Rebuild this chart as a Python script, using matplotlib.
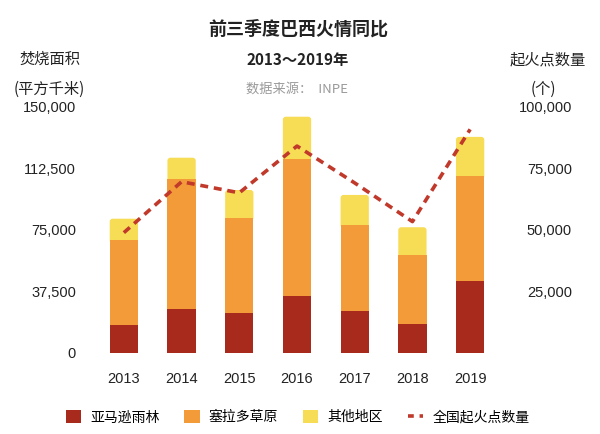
import matplotlib
matplotlib.use("Agg")
import matplotlib.pyplot as plt
from matplotlib.patches import Patch, FancyBboxPatch
from matplotlib.lines import Line2D

years = ["2013", "2014", "2015", "2016", "2017", "2018", "2019"]
amazon = [16700, 26500, 24400, 34600, 25600, 17500, 43700]
cerrado = [51800, 79200, 57900, 83500, 52300, 42100, 64100]
other = [13200, 13200, 16900, 25800, 18300, 16900, 23800]
fire_counts = [48800, 69500, 65000, 84000, 69000, 53300, 90800]
left_ticks = [0, 37500, 75000, 112500, 150000]
right_ticks = [25000, 50000, 75000, 100000]
series_names = ["亚马逊雨林", "塞拉多草原", "其他地区", "全国起火点数量"]

CJK = ["Noto Sans CJK SC", "DejaVu Sans"]
NUM = ["Liberation Sans", "Noto Sans CJK SC"]
plt.rcParams["font.family"] = CJK

c_red = "#A82A1C"
c_orange = "#F29B38"
c_yellow = "#F7DC55"
c_line = "#C0392B"

W, H = 600, 434
fig = plt.figure(figsize=(6, 4.34), dpi=100)
ax = fig.add_axes([95 / W, 1 - 352.7 / H, 404 / W, 246 / H])

x = list(range(len(years)))
bw = 0.49
b3 = [a + c for a, c in zip(amazon, cerrado)]
ax.set_xlim(-0.5, 6.5)
ax.set_ylim(0, 150000)
ax.bar(x, amazon, width=bw, color=c_red, zorder=2)
ax.bar(x, cerrado, width=bw, bottom=amazon, color=c_orange, zorder=2)
top_bars = ax.bar(x, other, width=bw, bottom=b3, color=c_yellow, zorder=1)

# round the top corners of the top segments
px_x = 404 / 7.0           # pixels per x unit
px_y = 246 / 150000.0      # pixels per y unit
r_px = 3.0
r_x = r_px / px_x
r_y = r_px / px_y
aspect = r_y / r_x
for rect in top_bars:
    x0, y0 = rect.get_x(), rect.get_y()
    w, h = rect.get_width(), rect.get_height()
    rect.set_visible(False)
    fb = FancyBboxPatch((x0, y0 - r_y), w, h + r_y,
                        boxstyle=f"round,pad=0,rounding_size={r_x}",
                        mutation_aspect=aspect, facecolor=c_yellow,
                        edgecolor="none", zorder=1)
    ax.add_patch(fb)

ax.set_yticks(left_ticks)
ax.set_yticklabels([f"{v:,}" for v in left_ticks])
ax.set_xticks(x)
ax.set_xticklabels(years)
for s in ax.spines.values():
    s.set_visible(False)
ax.tick_params(axis="both", length=0, labelsize=10.5, colors="#222222")
ax.tick_params(axis="y", pad=13.7)
ax.tick_params(axis="x", pad=14)
for lab in ax.get_xticklabels() + ax.get_yticklabels():
    lab.set_family(NUM)

ax2 = ax.twinx()
ax2.plot(x, fire_counts, color=c_line, linewidth=2.6, linestyle=(0, (2.2, 1.6)), zorder=3)
ax2.set_ylim(0, 100000)
ax2.set_yticks(right_ticks)
ax2.set_yticklabels([f"{v:,}" for v in right_ticks])
for s in ax2.spines.values():
    s.set_visible(False)
ax2.tick_params(axis="y", length=0, labelsize=10.5, colors="#222222", pad=52.6)
for lab in ax2.get_yticklabels():
    lab.set_family(NUM)
    lab.set_horizontalalignment("right")

# titles
fig.text(298 / W, 1 - 28.8 / H, "前三季度巴西火情同比", ha="center", va="center",
         fontsize=13, fontweight="bold", color="#222222")
fig.text(298 / W, 1 - 59.6 / H, "2013～2019年", ha="center", va="center",
         fontsize=11, fontweight="bold", color="#222222")
fig.text(297 / W, 1 - 89 / H, "数据来源：  INPE", ha="center", va="center",
         fontsize=9.5, color="#9a9a9a")
fig.text(50 / W, 1 - 59.6 / H, "焚烧面积", ha="center", va="center", fontsize=11, color="#222222")
fig.text(49 / W, 1 - 89 / H, "(平方千米)", ha="center", va="center", fontsize=11, color="#222222")
fig.text(548 / W, 1 - 59.6 / H, "起火点数量", ha="center", va="center", fontsize=11, color="#222222")
fig.text(543 / W, 1 - 89 / H, "(个)", ha="center", va="center", fontsize=11, color="#222222")

handles = [
    Patch(facecolor=c_red, edgecolor="none"),
    Patch(facecolor=c_orange, edgecolor="none"),
    Patch(facecolor=c_yellow, edgecolor="none"),
    Line2D([0], [0], color=c_line, linewidth=2.6, linestyle=(0, (1.6, 1.6))),
]
fig.legend(handles, series_names, loc="center", bbox_to_anchor=(297.5 / W, 1 - 417 / H),
           ncol=4, frameon=False, fontsize=10, handlelength=1.1, handleheight=1.15,
           handletextpad=0.65, columnspacing=1.8)

fig.savefig("out.png", dpi=100)
